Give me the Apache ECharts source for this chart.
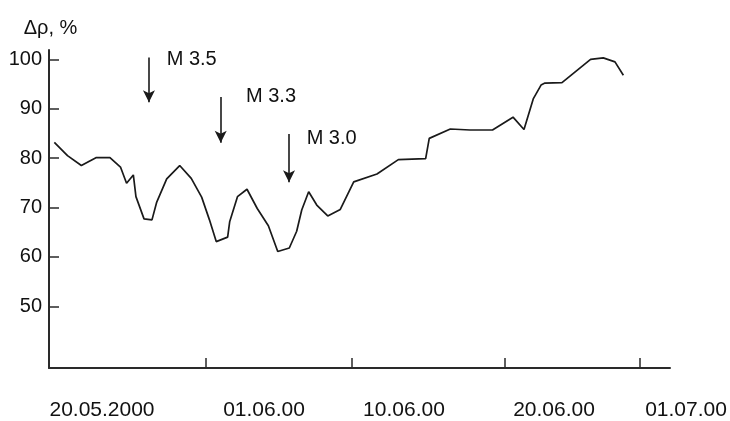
<!DOCTYPE html>
<html>
<head>
<meta charset="utf-8">
<script src="https://cdn.jsdelivr.net/npm/echarts@6/dist/echarts.min.js"></script>
<style>html,body{margin:0;padding:0;background:#fff}#chart{width:730px;height:421px}</style>
</head>
<body>
<div id="chart"></div>
<script>
// x in days counted from the left end of the time axis (20.05.2000)
const obsDays = [0.37, 1.28, 2.24, 3.25, 4.22, 4.95, 5.37, 5.84, 6.02, 6.58, 7.13, 7.46, 8.15, 9.05, 9.85, 10.57, 11.11, 11.58, 12.37, 12.51, 13.05, 13.71, 14.42, 15.19, 15.84, 16.64, 17.15, 17.50, 17.98, 18.54, 19.30, 20.17, 21.10, 22.71, 24.19, 26.08, 26.33, 27.79, 29.15, 30.71, 32.13, 32.89, 33.53, 34.07, 34.34, 35.52, 37.50, 38.38, 39.19, 39.77];
const deltaRho = [83.2, 80.5, 78.5, 80.1, 80.1, 78.2, 74.9, 76.6, 72.2, 67.7, 67.5, 71.1, 75.8, 78.5, 75.9, 72.1, 67.5, 63.1, 64.0, 67.1, 72.2, 73.7, 69.8, 66.3, 61.1, 61.8, 65.2, 69.5, 73.2, 70.5, 68.3, 69.6, 75.2, 76.8, 79.7, 79.9, 84.0, 85.9, 85.7, 85.7, 88.3, 85.8, 92.0, 94.8, 95.2, 95.3, 100.0, 100.3, 99.5, 96.8];

const yTicks = [50, 60, 70, 80, 90, 100];
const xTickDays = [10.87, 20.98, 31.58, 40.93];
const dateLabels = ['20.05.2000', '01.06.00', '10.06.00', '20.06.00', '01.07.00'];
const dateLabelDays = [3.67, 14.89, 24.58, 34.97, 44.11];

const eventNames = ['M 3.5', 'M 3.3', 'M 3.0'];
const eventDays = [6.92, 11.89, 16.62];
const eventTop = [100.4, 92.4, 84.9];
const eventTip = [91.3, 83.1, 75.1];
const eventLabelDays = [8.15, 13.64, 17.84];
const eventLabelVal = [99.9, 92.4, 83.9];

const FONT = 'Liberation Sans, Arial, sans-serif';
const TXT = '#111';
const AX = '#2a2a2a';

const chart = echarts.init(document.getElementById('chart'), null, {renderer: 'canvas'});

const lineData = obsDays.map((d, i) => [d, deltaRho[i]]);
const arrows = eventDays.map((d, i) => [{coord: [d, eventTop[i]]}, {coord: [d, eventTip[i]]}]);
const eventLabelData = eventNames.map((n, i) => ({name: n, value: [eventLabelDays[i], eventLabelVal[i]]}));

chart.setOption({
  animation: false,
  backgroundColor: '#fff',
  grid: [
    {left: 49, right: 60, top: 50, bottom: 53},
    {left: 49, right: 0, top: 50, bottom: 53}
  ],
  xAxis: [
    {
      type: 'value', gridIndex: 0, min: 0, max: 43,
      axisLine: {show: true, onZero: false, lineStyle: {color: AX, width: 2}},
      axisTick: {show: true, inside: true, length: 10, customValues: xTickDays, lineStyle: {color: AX, width: 1.5}},
      axisLabel: {show: false},
      splitLine: {show: false}
    },
    {
      type: 'value', gridIndex: 1, min: 0, max: 47.155,
      axisLine: {show: false},
      axisTick: {show: false},
      splitLine: {show: false},
      axisLabel: {
        show: true, customValues: dateLabelDays, margin: 36,
        fontSize: 21, fontFamily: FONT, color: TXT,
        formatter: v => {
          let best = 0;
          dateLabelDays.forEach((d, i) => { if (Math.abs(d - v) < Math.abs(dateLabelDays[best] - v)) best = i; });
          return dateLabels[best];
        }
      }
    }
  ],
  yAxis: [
    {
      type: 'value', gridIndex: 0, min: 37.5, max: 101.9,
      name: 'Δρ, %', nameLocation: 'end', nameGap: 12,
      nameTextStyle: {fontSize: 20, fontFamily: FONT, color: TXT, align: 'center', padding: [0, 0, 0, 3]},
      axisLine: {show: true, onZero: false, lineStyle: {color: AX, width: 2}},
      axisTick: {show: true, inside: true, length: 10, customValues: yTicks, lineStyle: {color: AX, width: 1.5}},
      axisLabel: {show: true, customValues: yTicks, margin: 7, fontSize: 20, fontFamily: FONT, color: TXT},
      splitLine: {show: false}
    },
    {
      type: 'value', gridIndex: 1, min: 37.5, max: 101.9, show: false
    }
  ],
  series: [
    {
      type: 'line', xAxisIndex: 0, yAxisIndex: 0,
      data: lineData, symbol: 'none', smooth: false,
      lineStyle: {color: '#1a1a1a', width: 1.7},
      markLine: {
        silent: true, animation: false,
        symbol: ['none', 'arrow'], symbolSize: [9, 12],
        lineStyle: {color: '#1a1a1a', width: 1.6, type: 'solid'},
        label: {show: false},
        data: arrows
      }
    },
    {
      type: 'scatter', xAxisIndex: 0, yAxisIndex: 0,
      data: eventLabelData, symbolSize: 0, silent: true,
      itemStyle: {opacity: 1},
      label: {show: true, position: 'right', distance: 0, formatter: p => p.name,
        fontSize: 20, fontFamily: FONT, color: TXT, opacity: 1}
    }
  ]
});
</script>
</body>
</html>
